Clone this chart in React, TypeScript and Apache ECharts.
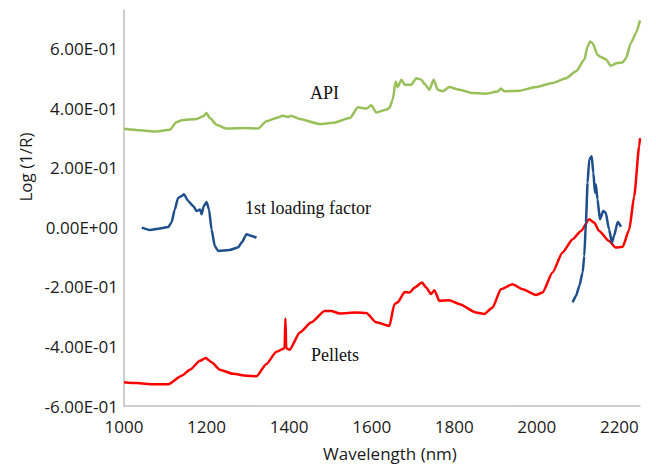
import React, { useEffect, useRef } from "react";
import * as echarts from "echarts";

// API spectrum
const apiWavelength = [1000, 1039, 1079, 1111, 1127, 1140, 1176, 1192, 1200, 1208, 1224, 1248, 1293, 1325, 1345, 1369, 1385, 1397, 1405, 1426, 1474, 1506, 1547, 1567, 1587, 1599, 1611, 1635, 1643, 1651, 1658, 1663, 1672, 1680, 1696, 1708, 1720, 1728, 1740, 1750, 1760, 1772, 1788, 1813, 1845, 1877, 1905, 1913, 1921, 1958, 1998, 2038, 2071, 2095, 2115, 2123, 2129, 2135, 2147, 2155, 2167, 2179, 2195, 2208, 2216, 2228, 2240, 2250];
const apiLogR = [0.331, 0.326, 0.322, 0.328, 0.353, 0.36, 0.364, 0.373, 0.384, 0.367, 0.345, 0.332, 0.334, 0.332, 0.356, 0.367, 0.375, 0.371, 0.375, 0.364, 0.347, 0.351, 0.367, 0.403, 0.399, 0.41, 0.386, 0.395, 0.401, 0.429, 0.49, 0.471, 0.496, 0.479, 0.479, 0.501, 0.496, 0.482, 0.462, 0.496, 0.462, 0.457, 0.471, 0.462, 0.451, 0.449, 0.456, 0.466, 0.457, 0.459, 0.471, 0.485, 0.501, 0.524, 0.563, 0.607, 0.624, 0.619, 0.58, 0.572, 0.565, 0.543, 0.552, 0.554, 0.568, 0.619, 0.652, 0.695];

// Pellets spectrum
const pelletWavelength = [1000, 1031, 1071, 1107, 1140, 1160, 1184, 1198, 1212, 1232, 1264, 1297, 1321, 1345, 1369, 1389, 1391, 1393, 1401, 1426, 1454, 1486, 1502, 1522, 1563, 1587, 1611, 1643, 1655, 1663, 1680, 1692, 1704, 1722, 1732, 1744, 1752, 1764, 1788, 1813, 1853, 1873, 1893, 1913, 1941, 1966, 1998, 2014, 2038, 2062, 2087, 2107, 2127, 2139, 2151, 2175, 2191, 2208, 2224, 2236, 2248, 2250];
const pelletLogR = [-0.52, -0.523, -0.527, -0.527, -0.498, -0.478, -0.448, -0.439, -0.453, -0.478, -0.492, -0.498, -0.5, -0.459, -0.418, -0.406, -0.306, -0.406, -0.411, -0.353, -0.319, -0.281, -0.281, -0.289, -0.286, -0.288, -0.319, -0.331, -0.258, -0.252, -0.217, -0.219, -0.202, -0.185, -0.202, -0.224, -0.211, -0.247, -0.245, -0.258, -0.286, -0.291, -0.269, -0.208, -0.191, -0.208, -0.227, -0.219, -0.152, -0.085, -0.04, -0.012, 0.027, 0.016, -0.012, -0.046, -0.068, -0.065, -0.007, 0.105, 0.272, 0.3];

// 1st loading factor, first region
const loadingWavelengthA = [1043, 1063, 1087, 1107, 1115, 1123, 1131, 1140, 1145, 1156, 1168, 1176, 1184, 1188, 1193, 1200, 1206, 1212, 1220, 1228, 1256, 1276, 1285, 1297, 1309, 1321];
const loadingValueA = [-0.001, -0.009, -0.004, 0.001, 0.016, 0.06, 0.099, 0.105, 0.111, 0.088, 0.071, 0.055, 0.06, 0.044, 0.071, 0.085, 0.06, -0.007, -0.063, -0.079, -0.076, -0.068, -0.051, -0.023, -0.029, -0.035];

// 1st loading factor, second region
const loadingWavelengthB = [2087, 2095, 2103, 2111, 2115, 2119, 2123, 2127, 2133, 2137, 2141, 2143, 2147, 2153, 2161, 2167, 2175, 2182, 2187, 2196, 2204];
const loadingValueB = [-0.252, -0.23, -0.197, -0.152, -0.096, 0.016, 0.15, 0.228, 0.239, 0.183, 0.116, 0.144, 0.094, 0.027, 0.055, 0.049, -0.007, -0.051, -0.029, 0.018, 0.002];

const zip = (xs: number[], ys: number[]) => xs.map((x, i) => [x, ys[i]]);

const sansFont = "'Open Sans', 'Liberation Sans', sans-serif";
const serifFont = "'Liberation Serif', 'DejaVu Serif', serif";

export default function App() {
  const ref = useRef<HTMLDivElement>(null);

  useEffect(() => {
    if (!ref.current) return;
    const chart = echarts.init(ref.current, null, { renderer: "svg" });
    const spectrum = (name: string, data: number[][], color: string) => ({
      name,
      type: "line",
      data,
      showSymbol: false,
      smooth: 0.2,
      smoothMonotone: "x",
      lineStyle: { color, width: 2.5 },
      itemStyle: { color },
    });
    chart.setOption({
      animation: false,
      backgroundColor: "#ffffff",
      grid: { left: 124, right: 16, top: 10, bottom: 60, containLabel: false },
      xAxis: {
        type: "value",
        min: 1000,
        max: 2250,
        interval: 200,
        axisLine: { show: true, onZero: false, lineStyle: { color: "#bfbfbf", width: 1.5 } },
        axisTick: { show: false },
        splitLine: { show: false },
        axisLabel: {
          color: "#1a1a1a",
          fontFamily: sansFont,
          fontSize: 17,
          margin: 12,
          showMaxLabel: false,
          formatter: (v: number) => String(v),
        },
      },
      yAxis: {
        type: "value",
        min: -0.6,
        max: 0.73,
        interval: 0.2,
        axisLine: { show: true, onZero: false, lineStyle: { color: "#bfbfbf", width: 1.5 } },
        axisTick: { show: false },
        splitLine: { show: false },
        axisLabel: {
          color: "#1a1a1a",
          fontFamily: sansFont,
          fontSize: 17,
          margin: 6,
          showMaxLabel: false,
          formatter: (v: number) => {
            const s = v.toExponential(2).toUpperCase();
            const m = s.match(/^(-?[\d.]+)E([+-])(\d+)$/);
            if (!m) return s;
            const exp = m[3].padStart(2, "0");
            return `${m[1]}E${Math.abs(v) < 1e-9 ? "+" : m[2]}${exp}`;
          },
        },
      },
      series: [
        spectrum("API", zip(apiWavelength, apiLogR), "#98c05a"),
        spectrum("Pellets", zip(pelletWavelength, pelletLogR), "#ff0000"),
        spectrum("1st loading factor A", zip(loadingWavelengthA, loadingValueA), "#1f4e8c"),
        spectrum("1st loading factor B", zip(loadingWavelengthB, loadingValueB), "#1f4e8c"),
      ],
      graphic: [
        {
          type: "text",
          x: 25,
          y: 167,
          rotation: Math.PI / 2,
          style: {
            text: "Log (1/R)",
            font: `17px ${sansFont}`,
            fill: "#1a1a1a",
            align: "center",
            verticalAlign: "middle",
          },
        },
        {
          type: "text",
          x: 390,
          y: 453,
          style: {
            text: "Wavelength (nm)",
            font: `17px ${sansFont}`,
            fill: "#1a1a1a",
            align: "center",
            verticalAlign: "middle",
          },
        },
        {
          type: "text",
          x: 310,
          y: 93,
          style: { text: "API", font: `18px ${serifFont}`, fill: "#111", verticalAlign: "middle" },
        },
        {
          type: "text",
          x: 245,
          y: 208,
          style: { text: "1st loading factor", font: `18px ${serifFont}`, fill: "#111", verticalAlign: "middle" },
        },
        {
          type: "text",
          x: 311,
          y: 355,
          style: { text: "Pellets", font: `18px ${serifFont}`, fill: "#111", verticalAlign: "middle" },
        },
      ],
    });
    return () => chart.dispose();
  }, []);

  return <div ref={ref} style={{ width: 656, height: 466, position: "absolute", left: 0, top: 0 }} />;
}
